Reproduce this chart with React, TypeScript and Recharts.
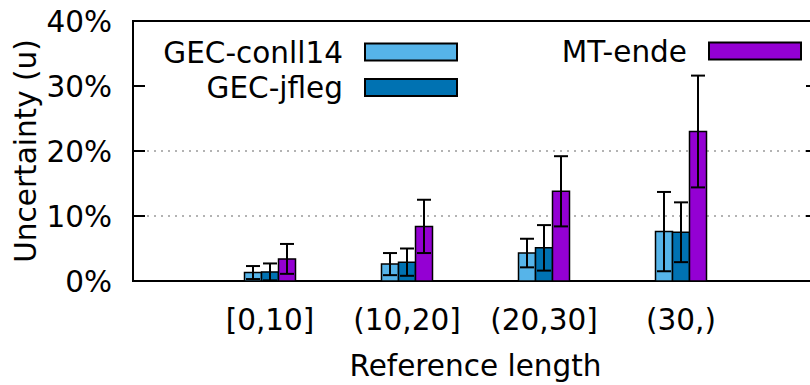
import React from "react";
import {
  BarChart,
  Bar,
  XAxis,
  YAxis,
  CartesianGrid,
  ErrorBar,
  Legend,
  ReferenceArea,
} from "recharts";

// length buckets of the reference sentence
const categories = ["[0,10]", "(10,20]", "(20,30]", "(30,)"];

// uncertainty in %, with the half-width of the error bar
const conll14 = [1.3, 2.6, 4.3, 7.6];
const conll14Err = [1.0, 1.7, 2.2, 6.1];
const jfleg = [1.4, 2.9, 5.1, 7.5];
const jflegErr = [1.3, 2.1, 3.5, 4.6];
const mtEnde = [3.4, 8.4, 13.8, 23.0];
const mtEndeErr = [2.3, 4.1, 5.4, 8.6];

const yTicks = [0, 10, 20, 30, 40];
const gridTicks = [10, 20];

const data = categories.map((label, i) => ({
  idx: i,
  label,
  conll: conll14[i],
  conllErr: conll14Err[i],
  jfleg: jfleg[i],
  jflegErr: jflegErr[i],
  mt: mtEnde[i],
  mtErr: mtEndeErr[i],
}));

const FONT = "'DejaVu Sans', sans-serif";
const FS = 29.5;

// gnuplot-like key: two entries in the left column, one on the right
const keySlots = [
  { right: 343, cy: 52 },
  { right: 343, cy: 87.5 },
  { right: 687, cy: 51 },
];

function KeyContent({ payload }: any) {
  return (
    <svg width={830} height={110} style={{ display: "block" }}>
      {(payload || []).map((p: any, i: number) => {
        const s = keySlots[i];
        if (!s) return null;
        return (
          <g key={p.value}>
            <text x={s.right} y={s.cy} dy="0.36em" textAnchor="end" fontSize={FS} fontFamily={FONT} fill="#000">
              {p.value}
            </text>
            <rect x={s.right + 22} y={s.cy - 8.5} width={92} height={17} fill={p.color} stroke="#000" strokeWidth={2} />
          </g>
        );
      })}
    </svg>
  );
}

function LeftTick({ x, y, payload }: any) {
  return (
    <g>
      <line x1={x + 21} x2={x + 33} y1={y} y2={y} stroke="#000" strokeWidth={2} />
      <text x={x} y={y} dy="0.36em" textAnchor="end" fontSize={FS} fontFamily={FONT} fill="#000">
        {payload.value}%
      </text>
    </g>
  );
}

function RightTick({ x, y }: any) {
  return <line x1={x - 12} x2={x} y1={y} y2={y} stroke="#000" strokeWidth={2} />;
}

function BottomTick({ x, y, payload }: any) {
  return (
    <text x={x} y={y} dy="0.71em" textAnchor="middle" fontSize={FS} fontFamily={FONT} fill="#000">
      {categories[payload.value]}
    </text>
  );
}

export default function App() {
  return (
    <div
      style={{
        position: "absolute",
        top: 0,
        left: 0,
        width: 810,
        height: 385,
        overflow: "hidden",
        fontFamily: FONT,
      }}
    >
      <BarChart
        width={830}
        height={385}
        data={data}
        margin={{ top: 21, right: 0, bottom: 0, left: 0 }}
        barGap={0}
      >
        <CartesianGrid
          vertical={false}
          horizontalValues={gridTicks}
          stroke="#9a9a9a"
          strokeWidth={1.5}
          strokeDasharray="2 5"
        />
        <XAxis
          type="number"
          dataKey="idx"
          domain={[-1, 4]}
          ticks={[0, 1, 2, 3]}
          allowDataOverflow
          height={104}
          tickSize={0}
          tickMargin={28}
          axisLine={false}
          tick={<BottomTick />}
          label={{
            content: ({ viewBox }: any) => (
              <text
                x={viewBox.x + viewBox.width / 2}
                y={376}
                textAnchor="middle"
                fontSize={FS}
                fontFamily={FONT}
                fill="#000"
              >
                Reference length
              </text>
            ),
          }}
        />
        <YAxis
          domain={[0, 40]}
          ticks={yTicks}
          allowDataOverflow
          width={133}
          tickSize={0}
          tickMargin={21}
          axisLine={false}
          tick={<LeftTick />}
          label={{
            content: ({ viewBox }: any) => {
              const cx = 36;
              const cy = viewBox.y + viewBox.height / 2;
              return (
                <text
                  x={cx}
                  y={cy}
                  transform={`rotate(-90 ${cx} ${cy})`}
                  textAnchor="middle"
                  fontSize={FS}
                  fontFamily={FONT}
                  fill="#000"
                >
                  Uncertainty (u)
                </text>
              );
            },
          }}
        />
        <YAxis
          yAxisId="right"
          orientation="right"
          domain={[0, 40]}
          ticks={yTicks}
          allowDataOverflow
          width={12}
          tickSize={0}
          tickMargin={0}
          axisLine={false}
          tick={<RightTick />}
        />
        <Legend
          layout="horizontal"
          verticalAlign="middle"
          align="center"
          wrapperStyle={{ position: "absolute", top: 0, left: 0, width: 830, height: 110 }}
          content={<KeyContent />}
        />
        <Bar dataKey="conll" name="GEC-conll14" fill="#56b4e9" stroke="#000" strokeWidth={1.5} barSize={17} isAnimationActive={false}>
          <ErrorBar dataKey="conllErr" direction="y" width={7} stroke="#000" strokeWidth={2} isAnimationActive={false} />
        </Bar>
        <Bar dataKey="jfleg" name="GEC-jfleg" fill="#0072b2" stroke="#000" strokeWidth={1.5} barSize={17} isAnimationActive={false}>
          <ErrorBar dataKey="jflegErr" direction="y" width={7} stroke="#000" strokeWidth={2} isAnimationActive={false} />
        </Bar>
        <Bar dataKey="mt" name="MT-ende" fill="#9400d3" stroke="#000" strokeWidth={1.5} barSize={17} isAnimationActive={false}>
          <ErrorBar dataKey="mtErr" direction="y" width={7} stroke="#000" strokeWidth={2} isAnimationActive={false} />
        </Bar>
        <ReferenceArea x1={-1} x2={4} y1={0} y2={40} fill="none" stroke="#000" strokeWidth={2} ifOverflow="visible" />
      </BarChart>
    </div>
  );
}
